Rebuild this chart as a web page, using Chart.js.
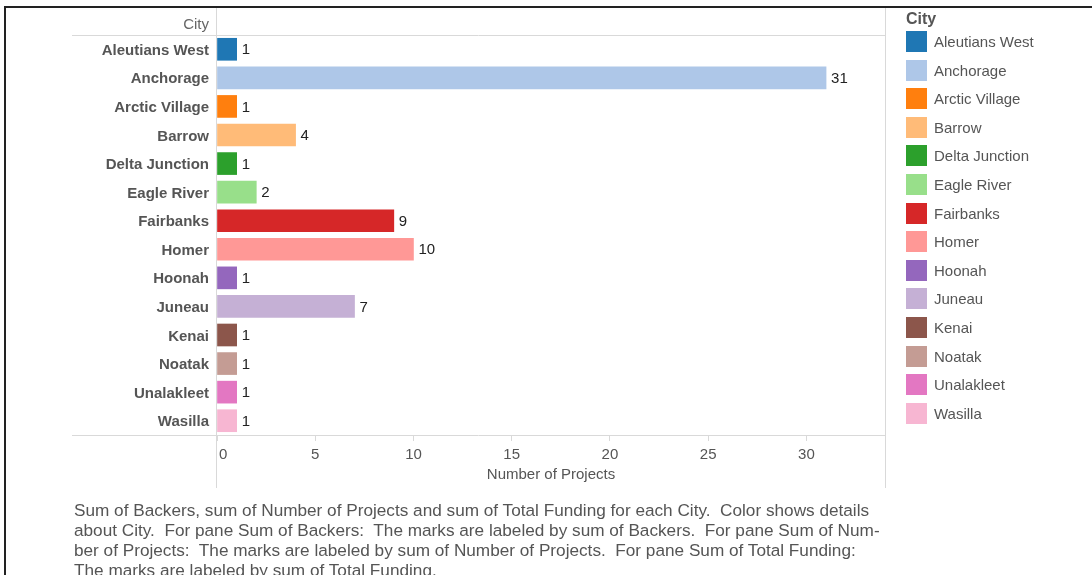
<!DOCTYPE html>
<html>
<head>
<meta charset="utf-8">
<script src="https://cdn.jsdelivr.net/npm/chart.js@4"></script>
<style>
  body { margin: 0; background: #fff; font-family: "Liberation Sans", Arial, sans-serif; }
  #wrap { position: relative; width: 1092px; height: 575px; overflow: hidden; }
  #frame { position: absolute; left: 4px; top: 6px; width: 1200px; height: 700px;
           border-top: 2px solid #222; border-left: 2px solid #222; }
  #myChart { position: absolute; left: 0; top: 0; }
  #legend { position: absolute; left: 906px; top: 10px; color: #555; }
  #legend .title { font-weight: bold; font-size: 16px; margin-bottom: 3px; }
  #legend .item { height: 28.6px; display: flex; align-items: flex-start; font-size: 15px; }
  #legend .sw { width: 21px; height: 21px; margin-right: 7px; }
  #legend .lbl { line-height: 21px; }
  #note { position: absolute; left: 74px; top: 500px; font-size: 17.2px; line-height: 20px; color: #555; white-space: nowrap; }
</style>
</head>
<body>
<div id="wrap">
  <div id="frame"></div>
  <canvas id="myChart" width="1092" height="575"></canvas>
  <div id="legend"></div>
  <div id="note">Sum of Backers, sum of Number of Projects and sum of Total Funding for each City.&nbsp; Color shows details<br>about City.&nbsp; For pane Sum of Backers:&nbsp; The marks are labeled by sum of Backers.&nbsp; For pane Sum of Num-<br>ber of Projects:&nbsp; The marks are labeled by sum of Number of Projects.&nbsp; For pane Sum of Total Funding:<br>The marks are labeled by sum of Total Funding.</div>
</div>
<script>
// data
const cities = ["Aleutians West", "Anchorage", "Arctic Village", "Barrow", "Delta Junction",
  "Eagle River", "Fairbanks", "Homer", "Hoonah", "Juneau", "Kenai", "Noatak", "Unalakleet", "Wasilla"];
const projects = [1, 31, 1, 4, 1, 2, 9, 10, 1, 7, 1, 1, 1, 1];
const cityColors = ["#1f77b4", "#aec7e8", "#ff7f0e", "#ffbb78", "#2ca02c", "#98df8a", "#d62728",
  "#ff9896", "#9467bd", "#c5b0d5", "#8c564b", "#c49c94", "#e377c2", "#f7b6d2"];
const axisTitle = "Number of Projects";

const FONT = '"Liberation Sans", Arial, sans-serif';
const LINE = "#d9d9d9";

// legend in html
const legend = document.getElementById("legend");
legend.innerHTML = '<div class="title">City</div>' + cities.map((c, i) =>
  `<div class="item"><div class="sw" style="background:${cityColors[i]}"></div><div class="lbl">${c}</div></div>`
).join("");

// extra lines, header, x tick labels, axis title and value labels
const extras = {
  id: "extras",
  afterDatasetsDraw(chart) {
    const { ctx, chartArea } = chart;
    ctx.save();
    ctx.strokeStyle = LINE;
    ctx.lineWidth = 1;
    ctx.beginPath();
    ctx.moveTo(72, chartArea.top + 0.5); ctx.lineTo(chartArea.right, chartArea.top + 0.5);
    ctx.moveTo(72, chartArea.bottom + 0.5); ctx.lineTo(chartArea.right, chartArea.bottom + 0.5);
    ctx.moveTo(chartArea.left - 0.5, 8); ctx.lineTo(chartArea.left - 0.5, 488);
    ctx.moveTo(chartArea.right + 0.5, 8); ctx.lineTo(chartArea.right + 0.5, 488);
    ctx.stroke();

    ctx.font = "15px " + FONT;
    ctx.fillStyle = "#666";
    ctx.textAlign = "right";
    ctx.textBaseline = "middle";
    ctx.fillText("City", 209, 25);

    // x tick labels (the 0 sits just right of the axis line)
    const xs = chart.scales.x;
    ctx.fillStyle = "#555";
    xs.ticks.forEach((t) => {
      const px = xs.getPixelForValue(t.value);
      ctx.textAlign = t.value === 0 ? "left" : "center";
      ctx.fillText(String(t.value), t.value === 0 ? px + 2 : px, chartArea.bottom + 20);
    });
    ctx.textAlign = "center";
    ctx.fillText(axisTitle, (chartArea.left + chartArea.right) / 2, chartArea.bottom + 40);

    ctx.fillStyle = "#222";
    ctx.textAlign = "left";
    const meta = chart.getDatasetMeta(0);
    meta.data.forEach((bar, i) => {
      ctx.fillText(String(projects[i]), bar.x + 5, bar.y + 1);
    });
    ctx.restore();
  }
};

const ctx = document.getElementById("myChart").getContext("2d");
const myChart = new Chart(ctx, {
  type: "bar",
  data: {
    labels: cities,
    datasets: [{
      label: axisTitle,
      data: projects,
      backgroundColor: cityColors,
      barThickness: 22,
    }],
  },
  options: {
    indexAxis: "y",
    responsive: false,
    animation: false,
    layout: { padding: { top: 35, right: 207, left: 0, bottom: 0 } },
    plugins: { legend: { display: false }, tooltip: { enabled: false } },
    scales: {
      y: {
        afterFit: (scale) => { scale.width = 217; },
        grid: { display: false, drawTicks: false },
        border: { display: false },
        ticks: { padding: 8, labelOffset: 1.5, color: "#555", font: { family: FONT, size: 15, weight: "bold" } },
      },
      x: {
        min: 0,
        max: 34,
        afterFit: (scale) => { scale.height = 140; },
        grid: { drawOnChartArea: false, drawTicks: true, tickLength: 6, color: LINE },
        border: { display: false },
        ticks: { stepSize: 5, includeBounds: false, display: false },
      },
    },
  },
  plugins: [extras],
});
</script>
</body>
</html>
